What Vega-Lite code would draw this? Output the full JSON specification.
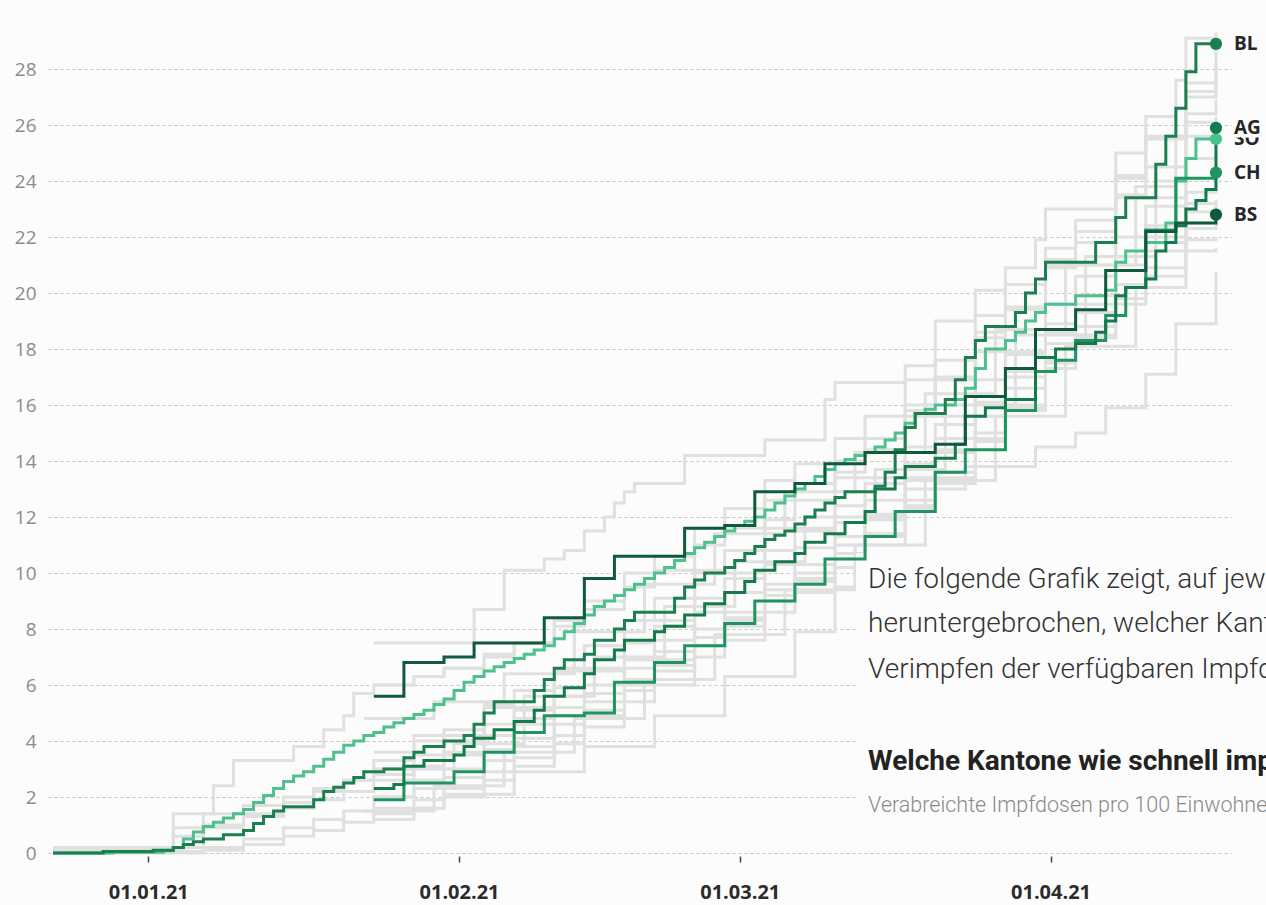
{
"$schema":"https://vega.github.io/schema/vega-lite/v6.json",
"width":1183,"height":826,
"autosize":{"type":"none"},
"padding":{"left":48,"top":27,"right":35,"bottom":52},
"background":"#fcfcfc",
"config":{"view":{"stroke":null},"font":"Open Sans"},
"datasets":{
"grey":[
{"c":"UR","d":"2020-12-22T12:00Z","v":0.2},{"c":"UR","d":"2021-01-03T12:00Z","v":1.4},{"c":"UR","d":"2021-01-07T12:00Z","v":2.4},{"c":"UR","d":"2021-01-09T12:00Z","v":3.3},{"c":"UR","d":"2021-01-15T12:00Z","v":3.8},{"c":"UR","d":"2021-01-18T12:00Z","v":4.4},{"c":"UR","d":"2021-01-20T12:00Z","v":4.9},{"c":"UR","d":"2021-01-21T12:00Z","v":5.7},{"c":"UR","d":"2021-01-23T12:00Z","v":6.0},{"c":"UR","d":"2021-01-27T12:00Z","v":6.3},{"c":"UR","d":"2021-01-30T12:00Z","v":6.6},{"c":"UR","d":"2021-02-03T12:00Z","v":7.0},{"c":"UR","d":"2021-02-06T12:00Z","v":7.5},{"c":"UR","d":"2021-02-10T12:00Z","v":8.3},{"c":"UR","d":"2021-02-13T12:00Z","v":9.0},{"c":"UR","d":"2021-02-17T12:00Z","v":10.0},{"c":"UR","d":"2021-02-20T12:00Z","v":10.6},{"c":"UR","d":"2021-02-24T12:00Z","v":11.6},{"c":"UR","d":"2021-02-27T12:00Z","v":12.3},{"c":"UR","d":"2021-03-03T12:00Z","v":13.3},{"c":"UR","d":"2021-03-06T12:00Z","v":13.9},{"c":"UR","d":"2021-03-10T12:00Z","v":14.8},{"c":"UR","d":"2021-03-13T12:00Z","v":15.6},{"c":"UR","d":"2021-03-17T12:00Z","v":16.9},{"c":"UR","d":"2021-03-20T12:00Z","v":17.6},{"c":"UR","d":"2021-03-24T12:00Z","v":19.2},{"c":"UR","d":"2021-03-27T12:00Z","v":20.3},{"c":"UR","d":"2021-03-31T12:00Z","v":21.6},{"c":"UR","d":"2021-04-03T12:00Z","v":22.6},{"c":"UR","d":"2021-04-07T12:00Z","v":24.2},{"c":"UR","d":"2021-04-10T12:00Z","v":25.5},{"c":"UR","d":"2021-04-14T12:00Z","v":27.0},{"c":"UR","d":"2021-04-17T12:00Z","v":28.2},
{"c":"AI","d":"2021-01-23T12:00Z","v":7.5},{"c":"AI","d":"2021-02-02T12:00Z","v":8.7},{"c":"AI","d":"2021-02-05T12:00Z","v":10.1},{"c":"AI","d":"2021-02-09T12:00Z","v":10.5},{"c":"AI","d":"2021-02-11T12:00Z","v":10.8},{"c":"AI","d":"2021-02-13T12:00Z","v":11.5},{"c":"AI","d":"2021-02-15T12:00Z","v":12.0},{"c":"AI","d":"2021-02-16T12:00Z","v":12.5},{"c":"AI","d":"2021-02-17T12:00Z","v":12.9},{"c":"AI","d":"2021-02-18T12:00Z","v":13.2},{"c":"AI","d":"2021-02-23T12:00Z","v":14.2},{"c":"AI","d":"2021-03-03T12:00Z","v":14.75},{"c":"AI","d":"2021-03-09T12:00Z","v":16.2},{"c":"AI","d":"2021-03-10T12:00Z","v":16.8},{"c":"AI","d":"2021-03-17T12:00Z","v":17.4},{"c":"AI","d":"2021-03-20T12:00Z","v":19.0},{"c":"AI","d":"2021-03-24T12:00Z","v":20.1},{"c":"AI","d":"2021-03-27T12:00Z","v":20.9},{"c":"AI","d":"2021-03-30T12:00Z","v":21.9},{"c":"AI","d":"2021-03-31T12:00Z","v":23.0},{"c":"AI","d":"2021-04-07T12:00Z","v":25.0},{"c":"AI","d":"2021-04-10T12:00Z","v":26.3},{"c":"AI","d":"2021-04-13T12:00Z","v":27.6},{"c":"AI","d":"2021-04-14T12:00Z","v":29.1},{"c":"AI","d":"2021-04-17T12:00Z","v":29.3},
{"c":"AR","d":"2021-01-23T12:00Z","v":3.6},{"c":"AR","d":"2021-01-27T12:00Z","v":4.2},{"c":"AR","d":"2021-02-03T12:00Z","v":5.2},{"c":"AR","d":"2021-02-10T12:00Z","v":6.6},{"c":"AR","d":"2021-02-17T12:00Z","v":8.3},{"c":"AR","d":"2021-02-24T12:00Z","v":10.0},{"c":"AR","d":"2021-03-03T12:00Z","v":11.6},{"c":"AR","d":"2021-03-10T12:00Z","v":13.4},{"c":"AR","d":"2021-03-17T12:00Z","v":15.6},{"c":"AR","d":"2021-03-24T12:00Z","v":17.9},{"c":"AR","d":"2021-03-31T12:00Z","v":21.0},{"c":"AR","d":"2021-04-07T12:00Z","v":23.4},{"c":"AR","d":"2021-04-14T12:00Z","v":26.4},{"c":"AR","d":"2021-04-17T12:00Z","v":26.9},
{"c":"BE","d":"2020-12-22T12:00Z","v":0.1},{"c":"BE","d":"2021-01-04T12:00Z","v":0.2},{"c":"BE","d":"2021-01-06T12:00Z","v":0.9},{"c":"BE","d":"2021-01-10T12:00Z","v":1.3},{"c":"BE","d":"2021-01-14T12:00Z","v":1.8},{"c":"BE","d":"2021-01-17T12:00Z","v":2.2},{"c":"BE","d":"2021-01-20T12:00Z","v":2.6},{"c":"BE","d":"2021-01-23T12:00Z","v":3.0},{"c":"BE","d":"2021-01-27T12:00Z","v":3.5},{"c":"BE","d":"2021-01-30T12:00Z","v":4.0},{"c":"BE","d":"2021-02-03T12:00Z","v":4.6},{"c":"BE","d":"2021-02-06T12:00Z","v":5.1},{"c":"BE","d":"2021-02-10T12:00Z","v":5.9},{"c":"BE","d":"2021-02-13T12:00Z","v":6.5},{"c":"BE","d":"2021-02-17T12:00Z","v":7.5},{"c":"BE","d":"2021-02-20T12:00Z","v":8.1},{"c":"BE","d":"2021-02-24T12:00Z","v":9.1},{"c":"BE","d":"2021-02-27T12:00Z","v":9.8},{"c":"BE","d":"2021-03-03T12:00Z","v":10.8},{"c":"BE","d":"2021-03-06T12:00Z","v":11.5},{"c":"BE","d":"2021-03-10T12:00Z","v":12.4},{"c":"BE","d":"2021-03-13T12:00Z","v":13.2},{"c":"BE","d":"2021-03-17T12:00Z","v":14.5},{"c":"BE","d":"2021-03-20T12:00Z","v":15.3},{"c":"BE","d":"2021-03-24T12:00Z","v":16.9},{"c":"BE","d":"2021-03-27T12:00Z","v":17.8},{"c":"BE","d":"2021-03-31T12:00Z","v":19.6},{"c":"BE","d":"2021-04-03T12:00Z","v":20.6},{"c":"BE","d":"2021-04-07T12:00Z","v":22.0},{"c":"BE","d":"2021-04-10T12:00Z","v":23.1},{"c":"BE","d":"2021-04-14T12:00Z","v":24.8},{"c":"BE","d":"2021-04-17T12:00Z","v":25.0},
{"c":"FR","d":"2020-12-22T12:00Z","v":0.0},{"c":"FR","d":"2021-01-03T12:00Z","v":0.05},{"c":"FR","d":"2021-01-06T12:00Z","v":0.2},{"c":"FR","d":"2021-01-10T12:00Z","v":0.5},{"c":"FR","d":"2021-01-14T12:00Z","v":0.9},{"c":"FR","d":"2021-01-17T12:00Z","v":1.2},{"c":"FR","d":"2021-01-20T12:00Z","v":1.5},{"c":"FR","d":"2021-01-23T12:00Z","v":2.0},{"c":"FR","d":"2021-01-27T12:00Z","v":2.6},{"c":"FR","d":"2021-01-30T12:00Z","v":3.0},{"c":"FR","d":"2021-02-03T12:00Z","v":3.7},{"c":"FR","d":"2021-02-06T12:00Z","v":4.1},{"c":"FR","d":"2021-02-10T12:00Z","v":4.9},{"c":"FR","d":"2021-02-13T12:00Z","v":5.4},{"c":"FR","d":"2021-02-17T12:00Z","v":6.2},{"c":"FR","d":"2021-02-20T12:00Z","v":6.9},{"c":"FR","d":"2021-02-24T12:00Z","v":7.7},{"c":"FR","d":"2021-02-27T12:00Z","v":8.3},{"c":"FR","d":"2021-03-03T12:00Z","v":9.2},{"c":"FR","d":"2021-03-06T12:00Z","v":9.8},{"c":"FR","d":"2021-03-10T12:00Z","v":10.7},{"c":"FR","d":"2021-03-13T12:00Z","v":11.4},{"c":"FR","d":"2021-03-17T12:00Z","v":12.6},{"c":"FR","d":"2021-03-20T12:00Z","v":13.6},{"c":"FR","d":"2021-03-24T12:00Z","v":15.0},{"c":"FR","d":"2021-03-27T12:00Z","v":16.0},{"c":"FR","d":"2021-03-31T12:00Z","v":17.5},{"c":"FR","d":"2021-04-03T12:00Z","v":18.5},{"c":"FR","d":"2021-04-07T12:00Z","v":19.8},{"c":"FR","d":"2021-04-10T12:00Z","v":20.9},{"c":"FR","d":"2021-04-14T12:00Z","v":22.3},{"c":"FR","d":"2021-04-17T12:00Z","v":23.3},
{"c":"GE","d":"2021-01-22T12:00Z","v":1.5},{"c":"GE","d":"2021-01-29T12:00Z","v":2.4},{"c":"GE","d":"2021-02-05T12:00Z","v":3.6},{"c":"GE","d":"2021-02-12T12:00Z","v":4.8},{"c":"GE","d":"2021-02-19T12:00Z","v":6.2},{"c":"GE","d":"2021-02-26T12:00Z","v":7.8},{"c":"GE","d":"2021-03-05T12:00Z","v":9.4},{"c":"GE","d":"2021-03-12T12:00Z","v":11.0},{"c":"GE","d":"2021-03-19T12:00Z","v":13.3},{"c":"GE","d":"2021-03-26T12:00Z","v":15.6},{"c":"GE","d":"2021-04-02T12:00Z","v":18.1},{"c":"GE","d":"2021-04-09T12:00Z","v":20.2},{"c":"GE","d":"2021-04-14T12:00Z","v":21.5},{"c":"GE","d":"2021-04-17T12:00Z","v":21.6},
{"c":"GL","d":"2021-01-23T12:00Z","v":1.6},{"c":"GL","d":"2021-01-30T12:00Z","v":2.1},{"c":"GL","d":"2021-02-06T12:00Z","v":2.9},{"c":"GL","d":"2021-02-13T12:00Z","v":3.8},{"c":"GL","d":"2021-02-20T12:00Z","v":4.9},{"c":"GL","d":"2021-02-27T12:00Z","v":6.3},{"c":"GL","d":"2021-03-06T12:00Z","v":7.9},{"c":"GL","d":"2021-03-10T12:00Z","v":9.5},{"c":"GL","d":"2021-03-13T12:00Z","v":12.0},{"c":"GL","d":"2021-03-17T12:00Z","v":13.0},{"c":"GL","d":"2021-03-23T12:00Z","v":13.8},{"c":"GL","d":"2021-03-30T12:00Z","v":14.5},{"c":"GL","d":"2021-04-03T12:00Z","v":15.0},{"c":"GL","d":"2021-04-06T12:00Z","v":15.9},{"c":"GL","d":"2021-04-10T12:00Z","v":17.1},{"c":"GL","d":"2021-04-13T12:00Z","v":18.9},{"c":"GL","d":"2021-04-17T12:00Z","v":20.75},
{"c":"GR","d":"2020-12-22T12:00Z","v":0.1},{"c":"GR","d":"2021-01-03T12:00Z","v":0.9},{"c":"GR","d":"2021-01-06T12:00Z","v":1.4},{"c":"GR","d":"2021-01-10T12:00Z","v":1.7},{"c":"GR","d":"2021-01-14T12:00Z","v":2.0},{"c":"GR","d":"2021-01-17T12:00Z","v":2.3},{"c":"GR","d":"2021-01-20T12:00Z","v":2.6},{"c":"GR","d":"2021-01-23T12:00Z","v":3.3},{"c":"GR","d":"2021-01-27T12:00Z","v":4.0},{"c":"GR","d":"2021-01-30T12:00Z","v":4.4},{"c":"GR","d":"2021-02-03T12:00Z","v":5.3},{"c":"GR","d":"2021-02-06T12:00Z","v":5.8},{"c":"GR","d":"2021-02-10T12:00Z","v":6.5},{"c":"GR","d":"2021-02-13T12:00Z","v":7.4},{"c":"GR","d":"2021-02-17T12:00Z","v":8.3},{"c":"GR","d":"2021-02-20T12:00Z","v":9.1},{"c":"GR","d":"2021-02-24T12:00Z","v":10.1},{"c":"GR","d":"2021-02-27T12:00Z","v":10.8},{"c":"GR","d":"2021-03-03T12:00Z","v":11.9},{"c":"GR","d":"2021-03-06T12:00Z","v":12.6},{"c":"GR","d":"2021-03-10T12:00Z","v":13.6},{"c":"GR","d":"2021-03-13T12:00Z","v":14.4},{"c":"GR","d":"2021-03-17T12:00Z","v":15.8},{"c":"GR","d":"2021-03-20T12:00Z","v":16.9},{"c":"GR","d":"2021-03-24T12:00Z","v":18.4},{"c":"GR","d":"2021-03-27T12:00Z","v":19.4},{"c":"GR","d":"2021-03-31T12:00Z","v":20.9},{"c":"GR","d":"2021-04-03T12:00Z","v":21.8},{"c":"GR","d":"2021-04-07T12:00Z","v":23.5},{"c":"GR","d":"2021-04-10T12:00Z","v":24.5},{"c":"GR","d":"2021-04-14T12:00Z","v":26.1},{"c":"GR","d":"2021-04-17T12:00Z","v":26.3},
{"c":"JU","d":"2021-01-23T12:00Z","v":2.8},{"c":"JU","d":"2021-01-27T12:00Z","v":3.1},{"c":"JU","d":"2021-01-30T12:00Z","v":3.5},{"c":"JU","d":"2021-02-03T12:00Z","v":4.2},{"c":"JU","d":"2021-02-06T12:00Z","v":4.8},{"c":"JU","d":"2021-02-10T12:00Z","v":5.6},{"c":"JU","d":"2021-02-13T12:00Z","v":6.0},{"c":"JU","d":"2021-02-17T12:00Z","v":6.9},{"c":"JU","d":"2021-02-20T12:00Z","v":7.6},{"c":"JU","d":"2021-02-24T12:00Z","v":8.6},{"c":"JU","d":"2021-02-27T12:00Z","v":9.3},{"c":"JU","d":"2021-03-03T12:00Z","v":10.3},{"c":"JU","d":"2021-03-06T12:00Z","v":10.9},{"c":"JU","d":"2021-03-10T12:00Z","v":11.8},{"c":"JU","d":"2021-03-13T12:00Z","v":12.6},{"c":"JU","d":"2021-03-17T12:00Z","v":13.9},{"c":"JU","d":"2021-03-20T12:00Z","v":14.8},{"c":"JU","d":"2021-03-24T12:00Z","v":16.3},{"c":"JU","d":"2021-03-27T12:00Z","v":17.2},{"c":"JU","d":"2021-03-31T12:00Z","v":18.9},{"c":"JU","d":"2021-04-03T12:00Z","v":19.9},{"c":"JU","d":"2021-04-07T12:00Z","v":21.3},{"c":"JU","d":"2021-04-10T12:00Z","v":22.4},{"c":"JU","d":"2021-04-14T12:00Z","v":23.6},{"c":"JU","d":"2021-04-17T12:00Z","v":23.9},
{"c":"LU","d":"2021-01-23T12:00Z","v":1.2},{"c":"LU","d":"2021-01-27T12:00Z","v":1.6},{"c":"LU","d":"2021-01-30T12:00Z","v":2.0},{"c":"LU","d":"2021-02-03T12:00Z","v":2.6},{"c":"LU","d":"2021-02-06T12:00Z","v":3.1},{"c":"LU","d":"2021-02-10T12:00Z","v":3.9},{"c":"LU","d":"2021-02-13T12:00Z","v":4.5},{"c":"LU","d":"2021-02-17T12:00Z","v":5.4},{"c":"LU","d":"2021-02-20T12:00Z","v":6.0},{"c":"LU","d":"2021-02-24T12:00Z","v":7.0},{"c":"LU","d":"2021-02-27T12:00Z","v":7.6},{"c":"LU","d":"2021-03-03T12:00Z","v":8.6},{"c":"LU","d":"2021-03-06T12:00Z","v":9.3},{"c":"LU","d":"2021-03-10T12:00Z","v":10.2},{"c":"LU","d":"2021-03-13T12:00Z","v":11.0},{"c":"LU","d":"2021-03-17T12:00Z","v":12.3},{"c":"LU","d":"2021-03-20T12:00Z","v":13.2},{"c":"LU","d":"2021-03-24T12:00Z","v":14.7},{"c":"LU","d":"2021-03-27T12:00Z","v":15.8},{"c":"LU","d":"2021-03-31T12:00Z","v":17.3},{"c":"LU","d":"2021-04-03T12:00Z","v":18.4},{"c":"LU","d":"2021-04-07T12:00Z","v":19.6},{"c":"LU","d":"2021-04-10T12:00Z","v":20.6},{"c":"LU","d":"2021-04-14T12:00Z","v":21.9},{"c":"LU","d":"2021-04-17T12:00Z","v":22.0},
{"c":"NE","d":"2020-12-22T12:00Z","v":0.0},{"c":"NE","d":"2021-01-06T12:00Z","v":0.1},{"c":"NE","d":"2021-01-10T12:00Z","v":0.3},{"c":"NE","d":"2021-01-14T12:00Z","v":0.6},{"c":"NE","d":"2021-01-17T12:00Z","v":0.8},{"c":"NE","d":"2021-01-20T12:00Z","v":1.1},{"c":"NE","d":"2021-01-23T12:00Z","v":1.4},{"c":"NE","d":"2021-01-27T12:00Z","v":1.9},{"c":"NE","d":"2021-01-30T12:00Z","v":2.3},{"c":"NE","d":"2021-02-03T12:00Z","v":2.9},{"c":"NE","d":"2021-02-06T12:00Z","v":3.4},{"c":"NE","d":"2021-02-10T12:00Z","v":4.2},{"c":"NE","d":"2021-02-13T12:00Z","v":4.9},{"c":"NE","d":"2021-02-17T12:00Z","v":5.8},{"c":"NE","d":"2021-02-20T12:00Z","v":6.5},{"c":"NE","d":"2021-02-24T12:00Z","v":7.4},{"c":"NE","d":"2021-02-27T12:00Z","v":8.1},{"c":"NE","d":"2021-03-03T12:00Z","v":9.0},{"c":"NE","d":"2021-03-06T12:00Z","v":9.7},{"c":"NE","d":"2021-03-10T12:00Z","v":10.5},{"c":"NE","d":"2021-03-13T12:00Z","v":11.3},{"c":"NE","d":"2021-03-17T12:00Z","v":12.4},{"c":"NE","d":"2021-03-20T12:00Z","v":13.4},{"c":"NE","d":"2021-03-24T12:00Z","v":14.8},{"c":"NE","d":"2021-03-27T12:00Z","v":15.9},{"c":"NE","d":"2021-03-31T12:00Z","v":17.6},{"c":"NE","d":"2021-04-03T12:00Z","v":18.8},{"c":"NE","d":"2021-04-07T12:00Z","v":20.3},{"c":"NE","d":"2021-04-10T12:00Z","v":21.5},{"c":"NE","d":"2021-04-14T12:00Z","v":22.5},{"c":"NE","d":"2021-04-17T12:00Z","v":22.8},
{"c":"NW","d":"2021-01-24T12:00Z","v":3.0},{"c":"NW","d":"2021-01-31T12:00Z","v":3.9},{"c":"NW","d":"2021-02-07T12:00Z","v":5.6},{"c":"NW","d":"2021-02-14T12:00Z","v":7.0},{"c":"NW","d":"2021-02-21T12:00Z","v":8.8},{"c":"NW","d":"2021-02-28T12:00Z","v":10.4},{"c":"NW","d":"2021-03-07T12:00Z","v":12.0},{"c":"NW","d":"2021-03-14T12:00Z","v":13.7},{"c":"NW","d":"2021-03-21T12:00Z","v":16.0},{"c":"NW","d":"2021-03-28T12:00Z","v":18.5},{"c":"NW","d":"2021-04-04T12:00Z","v":21.3},{"c":"NW","d":"2021-04-11T12:00Z","v":24.0},{"c":"NW","d":"2021-04-14T12:00Z","v":27.5},{"c":"NW","d":"2021-04-17T12:00Z","v":27.6},
{"c":"OW","d":"2020-12-22T12:00Z","v":0.2},{"c":"OW","d":"2021-01-03T12:00Z","v":0.6},{"c":"OW","d":"2021-01-06T12:00Z","v":1.0},{"c":"OW","d":"2021-01-10T12:00Z","v":1.4},{"c":"OW","d":"2021-01-14T12:00Z","v":1.6},{"c":"OW","d":"2021-01-17T12:00Z","v":1.9},{"c":"OW","d":"2021-01-20T12:00Z","v":2.2},{"c":"OW","d":"2021-01-23T12:00Z","v":2.6},{"c":"OW","d":"2021-01-27T12:00Z","v":3.1},{"c":"OW","d":"2021-01-30T12:00Z","v":3.6},{"c":"OW","d":"2021-02-03T12:00Z","v":4.2},{"c":"OW","d":"2021-02-06T12:00Z","v":4.6},{"c":"OW","d":"2021-02-10T12:00Z","v":5.2},{"c":"OW","d":"2021-02-13T12:00Z","v":5.7},{"c":"OW","d":"2021-02-17T12:00Z","v":6.6},{"c":"OW","d":"2021-02-20T12:00Z","v":7.2},{"c":"OW","d":"2021-02-24T12:00Z","v":8.0},{"c":"OW","d":"2021-02-27T12:00Z","v":8.6},{"c":"OW","d":"2021-03-03T12:00Z","v":9.6},{"c":"OW","d":"2021-03-06T12:00Z","v":10.3},{"c":"OW","d":"2021-03-10T12:00Z","v":11.3},{"c":"OW","d":"2021-03-13T12:00Z","v":12.1},{"c":"OW","d":"2021-03-17T12:00Z","v":13.4},{"c":"OW","d":"2021-03-20T12:00Z","v":14.4},{"c":"OW","d":"2021-03-24T12:00Z","v":16.1},{"c":"OW","d":"2021-03-27T12:00Z","v":17.0},{"c":"OW","d":"2021-03-31T12:00Z","v":18.6},{"c":"OW","d":"2021-04-03T12:00Z","v":19.6},{"c":"OW","d":"2021-04-07T12:00Z","v":21.0},{"c":"OW","d":"2021-04-10T12:00Z","v":22.0},{"c":"OW","d":"2021-04-14T12:00Z","v":23.2},{"c":"OW","d":"2021-04-17T12:00Z","v":23.3},
{"c":"SG","d":"2021-01-23T12:00Z","v":6.0},{"c":"SG","d":"2021-01-27T12:00Z","v":6.3},{"c":"SG","d":"2021-01-30T12:00Z","v":6.6},{"c":"SG","d":"2021-02-03T12:00Z","v":7.1},{"c":"SG","d":"2021-02-06T12:00Z","v":7.5},{"c":"SG","d":"2021-02-10T12:00Z","v":8.1},{"c":"SG","d":"2021-02-13T12:00Z","v":8.7},{"c":"SG","d":"2021-02-17T12:00Z","v":9.5},{"c":"SG","d":"2021-02-20T12:00Z","v":10.1},{"c":"SG","d":"2021-02-24T12:00Z","v":11.0},{"c":"SG","d":"2021-02-27T12:00Z","v":11.6},{"c":"SG","d":"2021-03-03T12:00Z","v":12.6},{"c":"SG","d":"2021-03-06T12:00Z","v":13.2},{"c":"SG","d":"2021-03-10T12:00Z","v":14.0},{"c":"SG","d":"2021-03-13T12:00Z","v":14.8},{"c":"SG","d":"2021-03-17T12:00Z","v":16.0},{"c":"SG","d":"2021-03-20T12:00Z","v":17.0},{"c":"SG","d":"2021-03-24T12:00Z","v":18.6},{"c":"SG","d":"2021-03-27T12:00Z","v":19.5},{"c":"SG","d":"2021-03-31T12:00Z","v":21.2},{"c":"SG","d":"2021-04-03T12:00Z","v":22.2},{"c":"SG","d":"2021-04-07T12:00Z","v":24.1},{"c":"SG","d":"2021-04-10T12:00Z","v":25.6},{"c":"SG","d":"2021-04-14T12:00Z","v":27.2},{"c":"SG","d":"2021-04-17T12:00Z","v":28.7},
{"c":"SH","d":"2021-01-23T12:00Z","v":2.0},{"c":"SH","d":"2021-01-27T12:00Z","v":2.3},{"c":"SH","d":"2021-01-30T12:00Z","v":2.7},{"c":"SH","d":"2021-02-03T12:00Z","v":3.3},{"c":"SH","d":"2021-02-06T12:00Z","v":3.8},{"c":"SH","d":"2021-02-10T12:00Z","v":4.6},{"c":"SH","d":"2021-02-13T12:00Z","v":5.1},{"c":"SH","d":"2021-02-17T12:00Z","v":6.0},{"c":"SH","d":"2021-02-20T12:00Z","v":6.7},{"c":"SH","d":"2021-02-24T12:00Z","v":7.7},{"c":"SH","d":"2021-02-27T12:00Z","v":8.4},{"c":"SH","d":"2021-03-03T12:00Z","v":9.4},{"c":"SH","d":"2021-03-06T12:00Z","v":10.0},{"c":"SH","d":"2021-03-10T12:00Z","v":11.0},{"c":"SH","d":"2021-03-13T12:00Z","v":11.9},{"c":"SH","d":"2021-03-17T12:00Z","v":13.3},{"c":"SH","d":"2021-03-20T12:00Z","v":14.3},{"c":"SH","d":"2021-03-24T12:00Z","v":15.6},{"c":"SH","d":"2021-03-27T12:00Z","v":16.6},{"c":"SH","d":"2021-03-31T12:00Z","v":18.2},{"c":"SH","d":"2021-04-03T12:00Z","v":19.3},{"c":"SH","d":"2021-04-07T12:00Z","v":20.8},{"c":"SH","d":"2021-04-10T12:00Z","v":21.8},{"c":"SH","d":"2021-04-14T12:00Z","v":22.9},{"c":"SH","d":"2021-04-17T12:00Z","v":23.0},
{"c":"SZ","d":"2021-01-22T12:00Z","v":4.8},{"c":"SZ","d":"2021-01-29T12:00Z","v":5.4},{"c":"SZ","d":"2021-02-05T12:00Z","v":6.4},{"c":"SZ","d":"2021-02-12T12:00Z","v":7.9},{"c":"SZ","d":"2021-02-19T12:00Z","v":9.6},{"c":"SZ","d":"2021-02-26T12:00Z","v":11.4},{"c":"SZ","d":"2021-03-05T12:00Z","v":12.9},{"c":"SZ","d":"2021-03-12T12:00Z","v":14.3},{"c":"SZ","d":"2021-03-19T12:00Z","v":16.4},{"c":"SZ","d":"2021-03-26T12:00Z","v":18.7},{"c":"SZ","d":"2021-04-02T12:00Z","v":21.0},{"c":"SZ","d":"2021-04-09T12:00Z","v":23.8},{"c":"SZ","d":"2021-04-13T12:00Z","v":25.6},{"c":"SZ","d":"2021-04-17T12:00Z","v":25.8}
],
"green":[
{"c":"SO","d":"2020-12-22T12:00Z","v":0},{"c":"SO","d":"2020-12-28T12:00Z","v":0.03},{"c":"SO","d":"2021-01-02T12:00Z","v":0.08},{"c":"SO","d":"2021-01-03T12:00Z","v":0.2},{"c":"SO","d":"2021-01-04T12:00Z","v":0.5},{"c":"SO","d":"2021-01-05T12:00Z","v":0.75},{"c":"SO","d":"2021-01-06T12:00Z","v":0.95},{"c":"SO","d":"2021-01-07T12:00Z","v":1.1},{"c":"SO","d":"2021-01-08T12:00Z","v":1.25},{"c":"SO","d":"2021-01-09T12:00Z","v":1.4},{"c":"SO","d":"2021-01-10T12:00Z","v":1.55},{"c":"SO","d":"2021-01-11T12:00Z","v":1.8},{"c":"SO","d":"2021-01-12T12:00Z","v":2.05},{"c":"SO","d":"2021-01-13T12:00Z","v":2.3},{"c":"SO","d":"2021-01-14T12:00Z","v":2.55},{"c":"SO","d":"2021-01-15T12:00Z","v":2.75},{"c":"SO","d":"2021-01-16T12:00Z","v":2.9},{"c":"SO","d":"2021-01-17T12:00Z","v":3.1},{"c":"SO","d":"2021-01-18T12:00Z","v":3.35},{"c":"SO","d":"2021-01-19T12:00Z","v":3.6},{"c":"SO","d":"2021-01-20T12:00Z","v":3.85},{"c":"SO","d":"2021-01-21T12:00Z","v":4.0},{"c":"SO","d":"2021-01-22T12:00Z","v":4.2},{"c":"SO","d":"2021-01-23T12:00Z","v":4.3},{"c":"SO","d":"2021-01-24T12:00Z","v":4.5},{"c":"SO","d":"2021-01-25T12:00Z","v":4.65},{"c":"SO","d":"2021-01-26T12:00Z","v":4.8},{"c":"SO","d":"2021-01-27T12:00Z","v":4.95},{"c":"SO","d":"2021-01-28T12:00Z","v":5.1},{"c":"SO","d":"2021-01-29T12:00Z","v":5.3},{"c":"SO","d":"2021-01-30T12:00Z","v":5.5},{"c":"SO","d":"2021-01-31T12:00Z","v":5.8},{"c":"SO","d":"2021-02-01T12:00Z","v":6.1},{"c":"SO","d":"2021-02-02T12:00Z","v":6.3},{"c":"SO","d":"2021-02-03T12:00Z","v":6.5},{"c":"SO","d":"2021-02-04T12:00Z","v":6.65},{"c":"SO","d":"2021-02-05T12:00Z","v":6.8},{"c":"SO","d":"2021-02-06T12:00Z","v":6.95},{"c":"SO","d":"2021-02-07T12:00Z","v":7.1},{"c":"SO","d":"2021-02-08T12:00Z","v":7.25},{"c":"SO","d":"2021-02-09T12:00Z","v":7.4},{"c":"SO","d":"2021-02-10T12:00Z","v":7.65},{"c":"SO","d":"2021-02-11T12:00Z","v":7.9},{"c":"SO","d":"2021-02-12T12:00Z","v":8.2},{"c":"SO","d":"2021-02-13T12:00Z","v":8.5},{"c":"SO","d":"2021-02-14T12:00Z","v":8.8},{"c":"SO","d":"2021-02-15T12:00Z","v":9.0},{"c":"SO","d":"2021-02-16T12:00Z","v":9.2},{"c":"SO","d":"2021-02-17T12:00Z","v":9.4},{"c":"SO","d":"2021-02-18T12:00Z","v":9.6},{"c":"SO","d":"2021-02-19T12:00Z","v":9.8},{"c":"SO","d":"2021-02-20T12:00Z","v":10.0},{"c":"SO","d":"2021-02-21T12:00Z","v":10.2},{"c":"SO","d":"2021-02-22T12:00Z","v":10.45},{"c":"SO","d":"2021-02-23T12:00Z","v":10.7},{"c":"SO","d":"2021-02-24T12:00Z","v":10.9},{"c":"SO","d":"2021-02-25T12:00Z","v":11.1},{"c":"SO","d":"2021-02-26T12:00Z","v":11.3},{"c":"SO","d":"2021-02-27T12:00Z","v":11.5},{"c":"SO","d":"2021-02-28T12:00Z","v":11.7},{"c":"SO","d":"2021-03-01T12:00Z","v":11.85},{"c":"SO","d":"2021-03-02T12:00Z","v":12.0},{"c":"SO","d":"2021-03-03T12:00Z","v":12.25},{"c":"SO","d":"2021-03-04T12:00Z","v":12.5},{"c":"SO","d":"2021-03-05T12:00Z","v":12.75},{"c":"SO","d":"2021-03-06T12:00Z","v":13.0},{"c":"SO","d":"2021-03-07T12:00Z","v":13.2},{"c":"SO","d":"2021-03-08T12:00Z","v":13.45},{"c":"SO","d":"2021-03-09T12:00Z","v":13.7},{"c":"SO","d":"2021-03-10T12:00Z","v":13.9},{"c":"SO","d":"2021-03-11T12:00Z","v":14.05},{"c":"SO","d":"2021-03-12T12:00Z","v":14.2},{"c":"SO","d":"2021-03-13T12:00Z","v":14.3},{"c":"SO","d":"2021-03-14T12:00Z","v":14.5},{"c":"SO","d":"2021-03-15T12:00Z","v":14.75},{"c":"SO","d":"2021-03-16T12:00Z","v":15.0},{"c":"SO","d":"2021-03-17T12:00Z","v":15.35},{"c":"SO","d":"2021-03-18T12:00Z","v":15.7},{"c":"SO","d":"2021-03-19T12:00Z","v":15.85},{"c":"SO","d":"2021-03-20T12:00Z","v":16.0},{"c":"SO","d":"2021-03-22T12:00Z","v":16.2},{"c":"SO","d":"2021-03-23T12:00Z","v":16.6},{"c":"SO","d":"2021-03-24T12:00Z","v":17.3},{"c":"SO","d":"2021-03-25T12:00Z","v":18.0},{"c":"SO","d":"2021-03-27T12:00Z","v":18.3},{"c":"SO","d":"2021-03-28T12:00Z","v":18.6},{"c":"SO","d":"2021-03-29T12:00Z","v":19.0},{"c":"SO","d":"2021-03-30T12:00Z","v":19.3},{"c":"SO","d":"2021-03-31T12:00Z","v":19.6},{"c":"SO","d":"2021-04-03T12:00Z","v":19.9},{"c":"SO","d":"2021-04-06T12:00Z","v":20.1},{"c":"SO","d":"2021-04-07T12:00Z","v":21.1},{"c":"SO","d":"2021-04-08T12:00Z","v":21.5},{"c":"SO","d":"2021-04-10T12:00Z","v":21.8},{"c":"SO","d":"2021-04-12T12:00Z","v":22.5},{"c":"SO","d":"2021-04-13T12:00Z","v":24.0},{"c":"SO","d":"2021-04-14T12:00Z","v":24.8},{"c":"SO","d":"2021-04-15T12:00Z","v":25.5},{"c":"SO","d":"2021-04-17T12:00Z","v":25.5},
{"c":"CH","d":"2021-01-23T12:00Z","v":1.9},{"c":"CH","d":"2021-01-26T12:00Z","v":2.5},{"c":"CH","d":"2021-01-31T12:00Z","v":2.9},{"c":"CH","d":"2021-02-03T12:00Z","v":3.6},{"c":"CH","d":"2021-02-06T12:00Z","v":4.3},{"c":"CH","d":"2021-02-09T12:00Z","v":4.9},{"c":"CH","d":"2021-02-13T12:00Z","v":5.0},{"c":"CH","d":"2021-02-16T12:00Z","v":6.1},{"c":"CH","d":"2021-02-20T12:00Z","v":6.8},{"c":"CH","d":"2021-02-23T12:00Z","v":7.4},{"c":"CH","d":"2021-02-27T12:00Z","v":8.2},{"c":"CH","d":"2021-03-02T12:00Z","v":9.0},{"c":"CH","d":"2021-03-06T12:00Z","v":9.6},{"c":"CH","d":"2021-03-09T12:00Z","v":10.5},{"c":"CH","d":"2021-03-13T12:00Z","v":11.3},{"c":"CH","d":"2021-03-16T12:00Z","v":12.2},{"c":"CH","d":"2021-03-20T12:00Z","v":13.6},{"c":"CH","d":"2021-03-23T12:00Z","v":14.4},{"c":"CH","d":"2021-03-27T12:00Z","v":15.8},{"c":"CH","d":"2021-03-30T12:00Z","v":17.2},{"c":"CH","d":"2021-04-01T12:00Z","v":17.6},{"c":"CH","d":"2021-04-03T12:00Z","v":18.3},{"c":"CH","d":"2021-04-06T12:00Z","v":19.2},{"c":"CH","d":"2021-04-08T12:00Z","v":20.2},{"c":"CH","d":"2021-04-10T12:00Z","v":22.25},{"c":"CH","d":"2021-04-13T12:00Z","v":24.1},{"c":"CH","d":"2021-04-17T12:00Z","v":24.3},
{"c":"AG","d":"2021-01-23T12:00Z","v":2.3},{"c":"AG","d":"2021-01-25T12:00Z","v":2.45},{"c":"AG","d":"2021-01-26T12:00Z","v":3.1},{"c":"AG","d":"2021-01-28T12:00Z","v":3.3},{"c":"AG","d":"2021-01-31T12:00Z","v":3.5},{"c":"AG","d":"2021-02-01T12:00Z","v":3.8},{"c":"AG","d":"2021-02-02T12:00Z","v":4.1},{"c":"AG","d":"2021-02-04T12:00Z","v":4.4},{"c":"AG","d":"2021-02-06T12:00Z","v":4.7},{"c":"AG","d":"2021-02-08T12:00Z","v":5.1},{"c":"AG","d":"2021-02-09T12:00Z","v":5.6},{"c":"AG","d":"2021-02-11T12:00Z","v":5.9},{"c":"AG","d":"2021-02-13T12:00Z","v":6.4},{"c":"AG","d":"2021-02-14T12:00Z","v":6.9},{"c":"AG","d":"2021-02-16T12:00Z","v":7.25},{"c":"AG","d":"2021-02-17T12:00Z","v":7.6},{"c":"AG","d":"2021-02-20T12:00Z","v":7.9},{"c":"AG","d":"2021-02-21T12:00Z","v":8.1},{"c":"AG","d":"2021-02-23T12:00Z","v":8.5},{"c":"AG","d":"2021-02-25T12:00Z","v":8.9},{"c":"AG","d":"2021-02-27T12:00Z","v":9.3},{"c":"AG","d":"2021-03-01T12:00Z","v":9.7},{"c":"AG","d":"2021-03-02T12:00Z","v":10.1},{"c":"AG","d":"2021-03-04T12:00Z","v":10.4},{"c":"AG","d":"2021-03-06T12:00Z","v":10.7},{"c":"AG","d":"2021-03-07T12:00Z","v":11.1},{"c":"AG","d":"2021-03-09T12:00Z","v":11.4},{"c":"AG","d":"2021-03-11T12:00Z","v":11.8},{"c":"AG","d":"2021-03-13T12:00Z","v":12.2},{"c":"AG","d":"2021-03-14T12:00Z","v":13.0},{"c":"AG","d":"2021-03-16T12:00Z","v":13.4},{"c":"AG","d":"2021-03-17T12:00Z","v":13.8},{"c":"AG","d":"2021-03-20T12:00Z","v":14.1},{"c":"AG","d":"2021-03-22T12:00Z","v":14.6},{"c":"AG","d":"2021-03-23T12:00Z","v":15.6},{"c":"AG","d":"2021-03-25T12:00Z","v":15.9},{"c":"AG","d":"2021-03-27T12:00Z","v":16.2},{"c":"AG","d":"2021-03-30T12:00Z","v":17.7},{"c":"AG","d":"2021-04-01T12:00Z","v":18.0},{"c":"AG","d":"2021-04-03T12:00Z","v":18.2},{"c":"AG","d":"2021-04-05T12:00Z","v":18.6},{"c":"AG","d":"2021-04-06T12:00Z","v":19.0},{"c":"AG","d":"2021-04-07T12:00Z","v":19.9},{"c":"AG","d":"2021-04-08T12:00Z","v":20.2},{"c":"AG","d":"2021-04-10T12:00Z","v":20.5},{"c":"AG","d":"2021-04-11T12:00Z","v":21.5},{"c":"AG","d":"2021-04-12T12:00Z","v":21.8},{"c":"AG","d":"2021-04-13T12:00Z","v":22.4},{"c":"AG","d":"2021-04-14T12:00Z","v":23.0},{"c":"AG","d":"2021-04-15T12:00Z","v":23.3},{"c":"AG","d":"2021-04-16T12:00Z","v":23.7},{"c":"AG","d":"2021-04-17T12:00Z","v":25.9},
{"c":"BL","d":"2020-12-22T12:00Z","v":0},{"c":"BL","d":"2020-12-27T12:00Z","v":0.05},{"c":"BL","d":"2021-01-01T12:00Z","v":0.1},{"c":"BL","d":"2021-01-03T12:00Z","v":0.2},{"c":"BL","d":"2021-01-04T12:00Z","v":0.3},{"c":"BL","d":"2021-01-05T12:00Z","v":0.4},{"c":"BL","d":"2021-01-06T12:00Z","v":0.5},{"c":"BL","d":"2021-01-08T12:00Z","v":0.65},{"c":"BL","d":"2021-01-10T12:00Z","v":0.8},{"c":"BL","d":"2021-01-11T12:00Z","v":1.05},{"c":"BL","d":"2021-01-12T12:00Z","v":1.3},{"c":"BL","d":"2021-01-13T12:00Z","v":1.5},{"c":"BL","d":"2021-01-14T12:00Z","v":1.65},{"c":"BL","d":"2021-01-17T12:00Z","v":1.9},{"c":"BL","d":"2021-01-18T12:00Z","v":2.2},{"c":"BL","d":"2021-01-19T12:00Z","v":2.35},{"c":"BL","d":"2021-01-20T12:00Z","v":2.5},{"c":"BL","d":"2021-01-21T12:00Z","v":2.7},{"c":"BL","d":"2021-01-22T12:00Z","v":2.9},{"c":"BL","d":"2021-01-24T12:00Z","v":3.0},{"c":"BL","d":"2021-01-26T12:00Z","v":3.4},{"c":"BL","d":"2021-01-27T12:00Z","v":3.6},{"c":"BL","d":"2021-01-28T12:00Z","v":3.8},{"c":"BL","d":"2021-01-30T12:00Z","v":4.0},{"c":"BL","d":"2021-02-01T12:00Z","v":4.2},{"c":"BL","d":"2021-02-02T12:00Z","v":4.6},{"c":"BL","d":"2021-02-03T12:00Z","v":5.0},{"c":"BL","d":"2021-02-04T12:00Z","v":5.4},{"c":"BL","d":"2021-02-08T12:00Z","v":5.8},{"c":"BL","d":"2021-02-09T12:00Z","v":6.2},{"c":"BL","d":"2021-02-10T12:00Z","v":6.6},{"c":"BL","d":"2021-02-11T12:00Z","v":6.9},{"c":"BL","d":"2021-02-13T12:00Z","v":7.1},{"c":"BL","d":"2021-02-14T12:00Z","v":7.6},{"c":"BL","d":"2021-02-16T12:00Z","v":8.0},{"c":"BL","d":"2021-02-17T12:00Z","v":8.3},{"c":"BL","d":"2021-02-18T12:00Z","v":8.6},{"c":"BL","d":"2021-02-22T12:00Z","v":9.1},{"c":"BL","d":"2021-02-23T12:00Z","v":9.5},{"c":"BL","d":"2021-02-24T12:00Z","v":9.75},{"c":"BL","d":"2021-02-25T12:00Z","v":10.0},{"c":"BL","d":"2021-02-27T12:00Z","v":10.2},{"c":"BL","d":"2021-02-28T12:00Z","v":10.45},{"c":"BL","d":"2021-03-01T12:00Z","v":10.7},{"c":"BL","d":"2021-03-02T12:00Z","v":10.95},{"c":"BL","d":"2021-03-03T12:00Z","v":11.2},{"c":"BL","d":"2021-03-04T12:00Z","v":11.35},{"c":"BL","d":"2021-03-05T12:00Z","v":11.5},{"c":"BL","d":"2021-03-06T12:00Z","v":11.75},{"c":"BL","d":"2021-03-07T12:00Z","v":12.0},{"c":"BL","d":"2021-03-08T12:00Z","v":12.25},{"c":"BL","d":"2021-03-09T12:00Z","v":12.5},{"c":"BL","d":"2021-03-10T12:00Z","v":12.7},{"c":"BL","d":"2021-03-11T12:00Z","v":12.9},{"c":"BL","d":"2021-03-14T12:00Z","v":13.1},{"c":"BL","d":"2021-03-15T12:00Z","v":13.6},{"c":"BL","d":"2021-03-16T12:00Z","v":14.4},{"c":"BL","d":"2021-03-17T12:00Z","v":15.2},{"c":"BL","d":"2021-03-18T12:00Z","v":15.7},{"c":"BL","d":"2021-03-21T12:00Z","v":16.2},{"c":"BL","d":"2021-03-22T12:00Z","v":16.9},{"c":"BL","d":"2021-03-23T12:00Z","v":17.7},{"c":"BL","d":"2021-03-24T12:00Z","v":18.3},{"c":"BL","d":"2021-03-25T12:00Z","v":18.8},{"c":"BL","d":"2021-03-28T12:00Z","v":19.3},{"c":"BL","d":"2021-03-29T12:00Z","v":20.0},{"c":"BL","d":"2021-03-30T12:00Z","v":20.5},{"c":"BL","d":"2021-03-31T12:00Z","v":21.1},{"c":"BL","d":"2021-04-05T12:00Z","v":21.8},{"c":"BL","d":"2021-04-07T12:00Z","v":22.7},{"c":"BL","d":"2021-04-08T12:00Z","v":23.4},{"c":"BL","d":"2021-04-11T12:00Z","v":24.6},{"c":"BL","d":"2021-04-12T12:00Z","v":25.6},{"c":"BL","d":"2021-04-13T12:00Z","v":26.6},{"c":"BL","d":"2021-04-14T12:00Z","v":27.9},{"c":"BL","d":"2021-04-15T12:00Z","v":28.9},{"c":"BL","d":"2021-04-17T12:00Z","v":28.9},
{"c":"BS","d":"2021-01-23T12:00Z","v":5.6},{"c":"BS","d":"2021-01-26T12:00Z","v":6.8},{"c":"BS","d":"2021-01-30T12:00Z","v":7.0},{"c":"BS","d":"2021-02-02T12:00Z","v":7.5},{"c":"BS","d":"2021-02-09T12:00Z","v":8.4},{"c":"BS","d":"2021-02-13T12:00Z","v":9.8},{"c":"BS","d":"2021-02-16T12:00Z","v":10.6},{"c":"BS","d":"2021-02-23T12:00Z","v":11.6},{"c":"BS","d":"2021-02-27T12:00Z","v":11.7},{"c":"BS","d":"2021-03-02T12:00Z","v":12.9},{"c":"BS","d":"2021-03-06T12:00Z","v":13.2},{"c":"BS","d":"2021-03-09T12:00Z","v":13.9},{"c":"BS","d":"2021-03-13T12:00Z","v":14.3},{"c":"BS","d":"2021-03-20T12:00Z","v":14.6},{"c":"BS","d":"2021-03-23T12:00Z","v":16.3},{"c":"BS","d":"2021-03-27T12:00Z","v":17.3},{"c":"BS","d":"2021-03-30T12:00Z","v":18.7},{"c":"BS","d":"2021-04-03T12:00Z","v":19.4},{"c":"BS","d":"2021-04-06T12:00Z","v":20.8},{"c":"BS","d":"2021-04-10T12:00Z","v":22.2},{"c":"BS","d":"2021-04-13T12:00Z","v":22.5},{"c":"BS","d":"2021-04-17T12:00Z","v":22.8}
],
"ends":[
{"c":"BS","d":"2021-04-17T12:00Z","v":22.8},{"c":"CH","d":"2021-04-17T12:00Z","v":24.3},{"c":"SO","d":"2021-04-17T12:00Z","v":25.5},{"c":"AG","d":"2021-04-17T12:00Z","v":25.9},{"c":"BL","d":"2021-04-17T12:00Z","v":28.9}
],
"box":[{"d":"2021-03-12T14:24Z","d2":"2021-06-01T00:00Z","v":0.8,"v2":10.7}],
"note":[
{"kind":"body","t":"Die folgende Grafik zeigt, auf jeweils 100 Einwohner","d":"2021-03-13T19:12Z","v":9.46},
{"kind":"body","t":"heruntergebrochen, welcher Kanton beim","d":"2021-03-13T19:12Z","v":7.9},
{"kind":"body","t":"Verimpfen der verfügbaren Impfdosen wie weit ist.","d":"2021-03-13T19:12Z","v":6.25},
{"kind":"title","t":"Welche Kantone wie schnell impfen","d":"2021-03-13T19:12Z","v":2.96},
{"kind":"sub","t":"Verabreichte Impfdosen pro 100 Einwohner","d":"2021-03-13T19:12Z","v":1.46}
]
},
"layer":[
{"data":{"name":"grey"},
 "mark":{"type":"line","interpolate":"step-after","color":"#e0e0e0","strokeWidth":3},
 "encoding":{
  "x":{"field":"d","type":"temporal","scale":{"type":"utc","domain":[1608595200000,1618790400000]},
       "axis":{"title":null,"values":[1609459200000,1612137600000,1614556800000,1617235200000],"format":"%d.%m.%y","labelFont":"Open Sans","labelFontSize":20,"labelFontWeight":"bold","labelColor":"#2b2b2b","domain":false,"ticks":true,"tickSize":6,"tickColor":"#444444","tickWidth":1.5,"offset":3,"labelPadding":20,"grid":false}},
  "y":{"field":"v","type":"quantitative","scale":{"domain":[0,29.5],"nice":false},
       "axis":{"title":null,"values":[0,2,4,6,8,10,12,14,16,18,20,22,24,26,28],"grid":true,"gridDash":[3,3],"gridColor":"#c4c4c4","gridWidth":1,"domain":false,"ticks":false,"labelFont":"Open Sans","labelFontSize":19,"labelColor":"#8c8c8c","labelPadding":12}},
  "detail":{"field":"c"}}},
{"data":{"name":"box"},
 "mark":{"type":"rect","color":"#fcfcfc"},
 "encoding":{"x":{"field":"d","type":"temporal"},"x2":{"field":"d2"},"y":{"field":"v","type":"quantitative"},"y2":{"field":"v2"}}},
{"data":{"name":"green"},
 "mark":{"type":"line","interpolate":"step-after","strokeWidth":3},
 "encoding":{"x":{"field":"d","type":"temporal"},"y":{"field":"v","type":"quantitative"},
  "color":{"field":"c","type":"nominal","scale":{"domain":["SO","CH","AG","BL","BS"],"range":["#4dc18c","#1f9460","#137a4a","#1b7f50","#0e5b3b"]},"legend":null}}},
{"data":{"name":"ends"},
 "mark":{"type":"circle","size":150,"opacity":1},
 "encoding":{"x":{"field":"d","type":"temporal"},"y":{"field":"v","type":"quantitative"},"color":{"field":"c","type":"nominal","legend":null}}},
{"data":{"name":"ends"},
 "mark":{"type":"text","align":"left","baseline":"middle","dx":18,"font":"Open Sans","fontSize":19,"fontWeight":"bold","color":"#262626"},
 "encoding":{"x":{"field":"d","type":"temporal"},"y":{"field":"v","type":"quantitative"},"text":{"field":"c"}}},
{"data":{"name":"ends"},"transform":[{"filter":"datum.c === 'AG'"}],
 "mark":{"type":"text","align":"left","baseline":"middle","dx":18,"font":"Open Sans","fontSize":19,"fontWeight":"bold","color":"#fcfcfc","stroke":"#fcfcfc","strokeWidth":7},
 "encoding":{"x":{"field":"d","type":"temporal"},"y":{"field":"v","type":"quantitative"},"text":{"field":"c"}}},
{"data":{"name":"ends"},"transform":[{"filter":"datum.c === 'AG'"}],
 "mark":{"type":"text","align":"left","baseline":"middle","dx":18,"font":"Open Sans","fontSize":19,"fontWeight":"bold","color":"#262626"},
 "encoding":{"x":{"field":"d","type":"temporal"},"y":{"field":"v","type":"quantitative"},"text":{"field":"c"}}},
{"data":{"name":"note"},"transform":[{"filter":"datum.kind === 'body'"}],
 "mark":{"type":"text","align":"left","baseline":"alphabetic","font":"Roboto","fontSize":28,"fontWeight":300,"color":"#333333"},
 "encoding":{"x":{"field":"d","type":"temporal"},"y":{"field":"v","type":"quantitative"},"text":{"field":"t"}}},
{"data":{"name":"note"},"transform":[{"filter":"datum.kind === 'title'"}],
 "mark":{"type":"text","align":"left","baseline":"alphabetic","font":"Roboto","fontSize":28,"fontWeight":"bold","color":"#222222"},
 "encoding":{"x":{"field":"d","type":"temporal"},"y":{"field":"v","type":"quantitative"},"text":{"field":"t"}}},
{"data":{"name":"note"},"transform":[{"filter":"datum.kind === 'sub'"}],
 "mark":{"type":"text","align":"left","baseline":"alphabetic","font":"Roboto","fontSize":21.5,"fontWeight":300,"color":"#8a8a8a"},
 "encoding":{"x":{"field":"d","type":"temporal"},"y":{"field":"v","type":"quantitative"},"text":{"field":"t"}}}
]
}
